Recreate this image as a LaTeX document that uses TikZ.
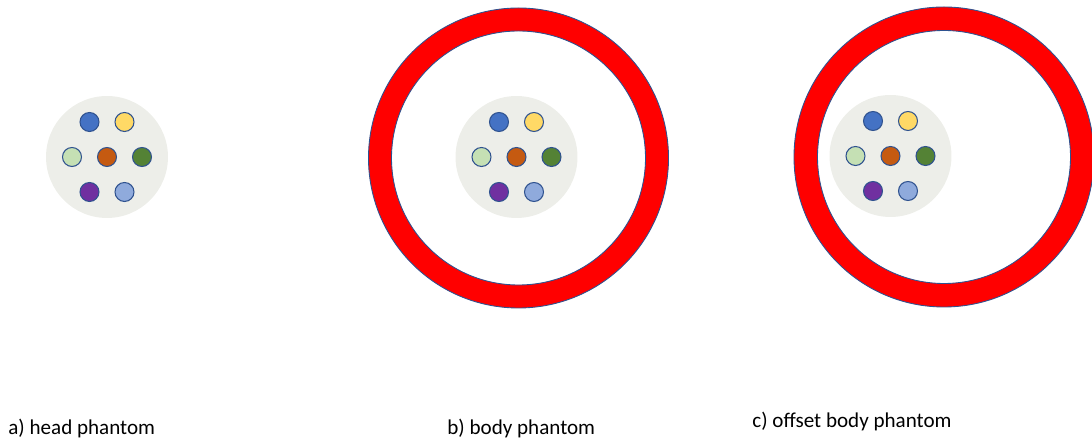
\documentclass[tikz,border=0pt]{standalone}
\usepackage{fontspec}
\setmainfont{Carlito}
\usepackage{xcolor}
\usepackage{tikz}
\definecolor{ringred}{HTML}{FF0000}
\definecolor{edgeblue}{HTML}{2F528F}
\definecolor{softgray}{HTML}{EDEEE9}
\definecolor{rodblue}{HTML}{4472C4}
\definecolor{rodyellow}{HTML}{FFD966}
\definecolor{rodmint}{HTML}{C5E0B4}
\definecolor{rodorange}{HTML}{C55A11}
\definecolor{rodgreen}{HTML}{548235}
\definecolor{rodpurple}{HTML}{7030A0}
\definecolor{rodsky}{HTML}{8FAADC}
\tikzset{
  disk/.style={circle, fill=softgray, minimum size=24.4mm, inner sep=0pt},
  rod/.style={circle, draw=edgeblue, line width=0.6pt, minimum size=3.8mm, inner sep=0pt},
  ring/.style={fill=ringred, draw=edgeblue, line width=0.5pt, even odd rule},
  caption/.style={anchor=west, inner sep=0pt, font=\fontsize{12}{14}\selectfont},
  phantom/.pic={
    \node[disk] (-disk) at (0,0) {};
    \node[rod, fill=rodblue] (-blue) at (-17.5,35) {};
    \node[rod, fill=rodyellow] (-yellow) at (17.5,35) {};
    \node[rod, fill=rodmint] (-mint) at (-35,0) {};
    \node[rod, fill=rodorange] (-orange) at (0,0) {};
    \node[rod, fill=rodgreen] (-green) at (35,0) {};
    \node[rod, fill=rodpurple] (-purple) at (-17.5,-35) {};
    \node[rod, fill=rodsky] (-sky) at (17.5,-35) {};
  }
}

\begin{document}
\begin{tikzpicture}[x=0.02cm, y=0.02cm]
  \useasboundingbox (0,0) rectangle (1092,445);

  % a) head phantom
  \pic (head) at (107,288) {phantom};
  \node[caption] (capa) at (8,17) {a) head phantom};

  % b) body phantom
  \draw[ring] (518.5,287) circle[radius=150] (518.5,287) circle[radius=127];
  \pic (body) at (516.5,288) {phantom};
  \node[caption] (capb) at (447,17) {b) body phantom};

  % c) offset body phantom
  \draw[ring] (944,288) circle[radius=150] (944,288) circle[radius=126.5];
  \pic (offset) at (890.5,289) {phantom};
  \node[caption] (capc) at (752,24) {c) offset body phantom};
\end{tikzpicture}
\end{document}
